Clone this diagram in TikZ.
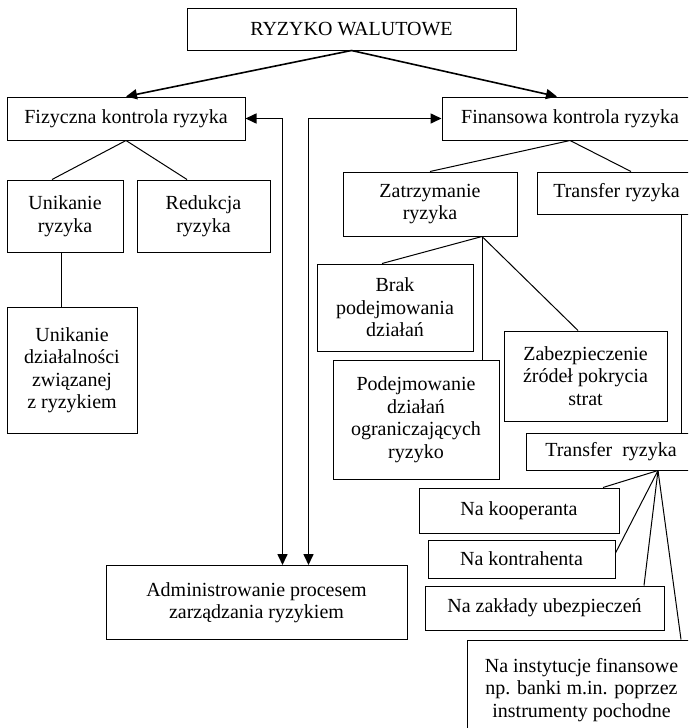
\documentclass[tikz,border=0pt]{standalone}
\usepackage{fontspec}
\setmainfont{Liberation Serif}
\usetikzlibrary{arrows.meta, positioning}

\tikzset{
  blok/.style={draw, line width=1pt, align=center, inner sep=0pt,
    font=\fontsize{20}{22.5}\selectfont},
  polacz/.style={line width=1pt},
  strz/.style={line width=1.6pt, -{Triangle[length=11pt,width=10pt]}},
  strz2/.style={line width=1.6pt, {Triangle[length=11pt,width=10pt]}-{Triangle[length=11pt,width=10pt]}}
}

\begin{document}
\begin{tikzpicture}[x=1pt,y=-1pt]
  \clip (0,0) rectangle (688,728);
  % gorny poziom
  \node[blok, minimum width=329pt, minimum height=42pt] (ryzyko) at (351.5,29) {RYZYKO WALUTOWE};
  \node[blok, minimum width=238pt, minimum height=43pt] (fiz) at (126,118.5) {Fizyczna kontrola ryzyka};
  \node[blok, minimum width=256pt, minimum height=43pt] (fin) at (570,118.5) {Finansowa kontrola ryzyka};

  % kontrola fizyczna
  \node[blok, minimum width=116pt, minimum height=72pt] (unik) at (65,216) {Unikanie\\ryzyka};
  \node[blok, minimum width=133pt, minimum height=72pt] (red) at (203.5,216) {Redukcja\\ryzyka};
  \node[blok, minimum width=130pt, minimum height=126pt] (unikdz) at (72,370) {Unikanie\\działalności\\związanej\\z ryzykiem};

  % kontrola finansowa
  \node[blok, minimum width=174pt, minimum height=64pt] (zatrz) at (430,204) {Zatrzymanie\\ryzyka};
  \node[blok, minimum width=159pt, minimum height=42pt] (transfer) at (616.5,193) {Transfer ryzyka};
  \node[blok, minimum width=156pt, minimum height=87pt] (brak) at (395,307.5) {Brak\\podejmowania\\działań};
  \node[blok, minimum width=166pt, minimum height=119pt] (podej) at (416,419.5) {Podejmowanie\\działań\\ograniczających\\ryzyko};
  \node[blok, minimum width=163pt, minimum height=90pt] (zabez) at (585.5,376) {Zabezpieczenie\\źródeł pokrycia\\strat};
  \node[blok, minimum width=170pt, minimum height=37pt] (transfer2) at (611,451.5) {Transfer~ ryzyka};
  \node[blok, minimum width=200pt, minimum height=45pt] (koop) at (519,510.5) {Na kooperanta};
  \node[blok, minimum width=187pt, minimum height=38pt] (kontr) at (521.5,559) {Na kontrahenta};
  \node[blok, minimum width=239pt, minimum height=44pt] (zakl) at (544.5,608) {Na zakłady ubezpieczeń};
  \node[blok, minimum width=229pt, minimum height=100pt] (inst) at (581.5,690) {Na instytucje finansowe\\np. banki m.in. poprzez\\instrumenty pochodne};

  \node[blok, minimum width=301pt, minimum height=74pt] (admin) at (256.5,602.5) {Administrowanie procesem\\zarządzania ryzykiem};

  % strzalki
  \draw[strz] (ryzyko.south) -- (fiz.north);
  \draw[strz] (ryzyko.south) -- ([xshift=-13pt]fin.north);
  \coordinate (lewyR) at ([xshift=37pt]fiz.east);
  \coordinate (prawyR) at ([xshift=-133pt]fin.west);
  \draw[strz2] (fiz.east) -- (lewyR) -- (lewyR |- admin.north);
  \draw[strz2] (fin.west) -- (prawyR) -- (prawyR |- admin.north);

  % linie
  \draw[polacz] (fiz.south) -- ([xshift=-13pt]unik.north);
  \draw[polacz] (fiz.south) -- ([xshift=-16.5pt]red.north);
  \draw[polacz] ([xshift=-4pt]unik.south) -- ([xshift=-4pt]unik.south |- unikdz.north);
  \draw[polacz] (fin.south) -- (zatrz.north);
  \draw[polacz] (fin.south) -- ([xshift=14.5pt]transfer.north);
  \draw[polacz] ([xshift=52pt]zatrz.south) -- ([xshift=-13pt]brak.north);
  \draw[polacz] ([xshift=52pt]zatrz.south) -- ([xshift=52pt]zatrz.south |- podej.north);
  \draw[polacz] ([xshift=52pt]zatrz.south) -- ([xshift=-7.5pt]zabez.north);
  \draw[polacz] ([xshift=64.5pt]transfer.south) -- ([xshift=64.5pt]transfer.south |- transfer2.north);
  \draw[polacz] ([xshift=47pt]transfer2.south) -- ([xshift=84pt]koop.north);
  \draw[polacz] ([xshift=47pt]transfer2.south) -- ([yshift=6pt]kontr.east);
  \draw[polacz] ([xshift=47pt]transfer2.south) -- ([xshift=99.5pt]zakl.north);
  \draw[polacz] ([xshift=47pt]transfer2.south) -- ([xshift=99.5pt]inst.north);
\end{tikzpicture}
\end{document}
